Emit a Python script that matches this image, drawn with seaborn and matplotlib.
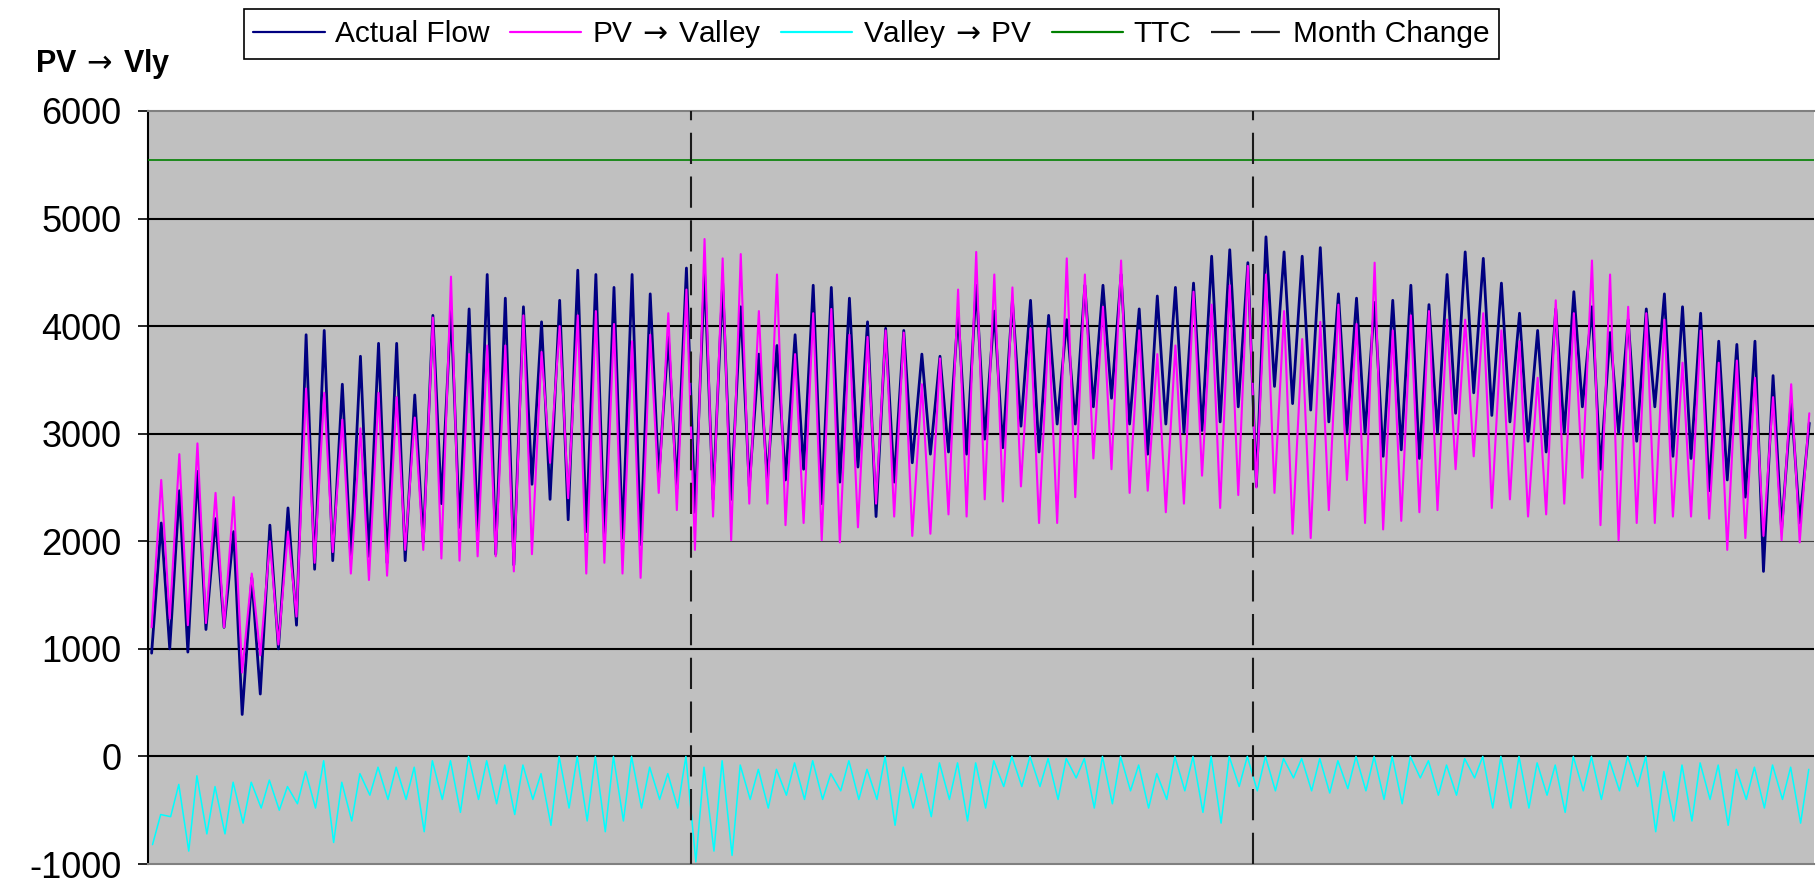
import numpy as np
import pandas as pd
import matplotlib
matplotlib.use("Agg")
import matplotlib.pyplot as plt
from matplotlib.lines import Line2D
import seaborn as sns

# ---------------- data (one value pair per day) ----------------
days = np.arange(92)

actual_trough = [960, 1000, 970, 1180, 1200, 390, 580, 1000, 1220, 1740,
                 1820, 1840, 1860, 1800, 1820, 1990, 2350, 2130, 2090, 1880,
                 1780, 2530, 2390, 2200, 2090, 2010, 2030, 1970, 2590, 2490,
                 2270, 2390, 2390, 2510, 2570, 2570, 2670, 2350, 2550, 2690,
                 2230, 2550, 2730, 2810, 2830, 2810, 2950, 2870, 3070, 2830,
                 3090, 3090, 3250, 3330, 3090, 2810, 3090, 3010, 3030, 3110,
                 3250, 2510, 3440, 3280, 3220, 3110, 3010, 3010, 2790, 2850,
                 2770, 3010, 3190, 3380, 3170, 3110, 2930, 2830, 3010, 3250,
                 2670, 3010, 2930, 3250, 2790, 2770, 2470, 2570, 2410, 1720,
                 2110, 2170]
actual_peak = [2170, 2470, 2650, 2210, 2090, 1660, 2150, 2310, 3920, 3960,
               3460, 3720, 3840, 3840, 3360, 4100, 4160, 4160, 4480, 4260,
               4180, 4040, 4240, 4520, 4480, 4360, 4480, 4300, 3900, 4540,
               4500, 4400, 4180, 3740, 3820, 3920, 4380, 4360, 4260, 4040,
               3980, 3960, 3740, 3720, 4120, 4380, 4140, 4240, 4240, 4100,
               4060, 4380, 4380, 4480, 4160, 4280, 4360, 4400, 4650, 4710,
               4590, 4830, 4690, 4650, 4730, 4300, 4260, 4220, 4240, 4380,
               4200, 4480, 4690, 4630, 4400, 4120, 3960, 4160, 4320, 4180,
               3940, 4060, 4160, 4300, 4180, 4120, 3860, 3830, 3860, 3540,
               3300, 3100]
pv_valley_trough = [1200, 1280, 1220, 1240, 1200, 780, 940, 1040, 1300, 1800,
                    1900, 1700, 1640, 1680, 1920, 1920, 1840, 1820, 1860, 1860,
                    1720, 1880, 2730, 2400, 1700, 1800, 1700, 1660, 2450, 2290,
                    1920, 2230, 2010, 2350, 2350, 2150, 2170, 2010, 1990, 2130,
                    2350, 2230, 2050, 2070, 2250, 2230, 2390, 2370, 2510, 2170,
                    2170, 2410, 2770, 2670, 2450, 2470, 2270, 2350, 2610, 2310,
                    2430, 2500, 2450, 2070, 2030, 2290, 2570, 2170, 2110, 2190,
                    2270, 2290, 2670, 2790, 2310, 2390, 2230, 2250, 2350, 2590,
                    2150, 2010, 2170, 2170, 2230, 2230, 2210, 1920, 2030, 2050,
                    2010, 1990]
pv_valley_peak = [2570, 2810, 2910, 2450, 2410, 1700, 2000, 2090, 3420, 3380,
                  3130, 3050, 3380, 3340, 3150, 4080, 4460, 3740, 3820, 3820,
                  4100, 3760, 4000, 4100, 4140, 4020, 3860, 3920, 4120, 4340,
                  4810, 4630, 4670, 4140, 4480, 3740, 4120, 4160, 3920, 3900,
                  3960, 3940, 3460, 3700, 4340, 4690, 4480, 4360, 3980, 3980,
                  4630, 4480, 4180, 4610, 3960, 3740, 3820, 4320, 4200, 4380,
                  4560, 4480, 4140, 3880, 4040, 4200, 4020, 4590, 3960, 4100,
                  4140, 4060, 4060, 4120, 3960, 3860, 3520, 4240, 4120, 4610,
                  4480, 4180, 4120, 4060, 3660, 3960, 3660, 3680, 3520, 3340,
                  3460, 3190]
valley_pv_low = [-820, -560, -880, -720, -720, -620, -480, -500, -440, -480,
                 -800, -600, -360, -400, -400, -700, -400, -520, -400, -440,
                 -540, -400, -640, -480, -600, -700, -600, -480, -400, -480,
                 -980, -880, -920, -400, -480, -360, -400, -400, -320, -400,
                 -400, -640, -480, -560, -400, -600, -480, -280, -280, -280,
                 -400, -200, -480, -440, -320, -480, -400, -320, -520, -620,
                 -280, -320, -320, -200, -320, -340, -300, -320, -400, -440,
                 -200, -360, -360, -200, -480, -480, -480, -360, -520, -320,
                 -400, -320, -280, -700, -600, -600, -400, -640, -400, -480,
                 -400, -620]
valley_pv_high = [-540, -260, -180, -280, -240, -240, -220, -280, -140, -40,
                  -240, -160, -100, -100, -100, -40, -40, 0, -40, -80,
                  -80, -160, 0, 0, 0, 0, 0, -100, -160, 0,
                  -100, -40, -80, -120, -120, -60, -40, -160, -40, -120,
                  0, -100, -160, -60, -60, -60, -40, 0, 0, -20,
                  -20, -20, 0, 0, -80, -160, 0, 0, 0, 0,
                  0, 0, -20, -20, -20, -40, 0, 0, 0, 0,
                  -40, -80, -20, 0, 0, 0, -60, -80, 0, 0,
                  -40, 0, 0, -140, -80, -60, -80, -120, -100, -80,
                  -100, -120]
ttc_value = 5540
month_change_days = [30, 61]
y_ticks = [-1000, 0, 1000, 2000, 3000, 4000, 5000, 6000]
ARROW = r"$\,\rightarrow\,$"
labels = ["Actual Flow", f"PV{ARROW}Valley", f"Valley{ARROW}PV", "TTC", "Month Change"]
y_title = f"PV{ARROW}Vly"

# ---------------- build long tables ----------------
def interleave(a_pos, a_vals, b_pos, b_vals):
    x = np.column_stack([days + a_pos, days + b_pos]).ravel()
    y = np.column_stack([a_vals, b_vals]).ravel()
    return pd.DataFrame({"day": x, "value": y})

df_actual = interleave(0.20, actual_trough, 0.73, actual_peak)
df_pv = interleave(0.20, pv_valley_trough, 0.73, pv_valley_peak)
df_vly = interleave(0.25, valley_pv_low, 0.70, valley_pv_high)

# ---------------- styling ----------------
sns.set_theme(style="white")
plt.rcParams["font.family"] = ["Liberation Sans", "DejaVu Sans"]
plt.rcParams["axes.unicode_minus"] = False
plt.rcParams["text.color"] = "black"
plt.rcParams["ytick.color"] = "black"
plt.rcParams["ytick.labelcolor"] = "black"
plt.rcParams["mathtext.fontset"] = "dejavusans"

fig = plt.figure(figsize=(18.16, 8.85), dpi=100)
fig.patch.set_facecolor("white")
ax = fig.add_axes([148 / 1816, 1 - 864 / 885, 1 - 148 / 1816 - 0.001, (864 - 111) / 885])
ax.set_facecolor("#C0C0C0")

# grid lines
for yv in y_ticks[1:-1]:
    if yv == 2000:
        ax.axhline(yv, color="#404040", lw=0.8, zorder=1)
    else:
        ax.axhline(yv, color="black", lw=1.5, zorder=1)

navy, pink, cyan, green = "#000080", "#FF00FF", "#00FFFF", "#008000"

sns.lineplot(data=df_actual, x="day", y="value", ax=ax, color=navy, lw=2.0,
             sort=False, estimator=None, zorder=3, legend=False)
sns.lineplot(data=df_pv, x="day", y="value", ax=ax, color=pink, lw=1.5,
             sort=False, estimator=None, zorder=4, legend=False)
sns.lineplot(data=df_vly, x="day", y="value", ax=ax, color=cyan, lw=1.1,
             sort=False, estimator=None, zorder=4, legend=False)
ax.axhline(ttc_value, color=green, lw=1.2, zorder=3)
for d in month_change_days:
    ax.axvline(d, color="#1a1a1a", lw=1.5, linestyle=(0, (15, 6)), zorder=5)

ax.set_xlim(0, 92)
ax.set_ylim(-1000, 6000)
ax.set_yticks(y_ticks)
ax.set_yticklabels([str(v) for v in y_ticks], fontsize=26, color="black")
ax.set_xticks([])
ax.set_xlabel("")
ax.set_ylabel("")
ax.tick_params(axis="y", direction="out", length=7, width=1.2, color="black",
               pad=12, left=True)

for side in ["top", "bottom"]:
    ax.spines[side].set_color("#808080")
    ax.spines[side].set_linewidth(1.5)
ax.spines["left"].set_color("black")
ax.spines["left"].set_linewidth(1.5)
ax.spines["right"].set_visible(False)

fig.text(35 / 1816, 1 - 64 / 885, y_title, fontsize=22, fontweight="bold",
         ha="left", va="center", color="black")

handles = [
    Line2D([], [], color=navy, lw=1.6),
    Line2D([], [], color=pink, lw=1.6),
    Line2D([], [], color=cyan, lw=1.6),
    Line2D([], [], color=green, lw=1.6),
    Line2D([], [], color="#1a1a1a", lw=1.6, linestyle=(0, (13, 5))),
]
leg = fig.legend(handles, labels, loc="center", bbox_to_anchor=(871.5 / 1816, 1 - 34 / 885),
                 ncol=5, fontsize=21.5, frameon=True, fancybox=False, framealpha=1,
                 edgecolor="black", handlelength=2.4, handletextpad=0.35,
                 columnspacing=0.65, borderpad=0.3, borderaxespad=0)
leg.get_frame().set_linewidth(1.2)
for t in leg.get_texts():
    t.set_color("black")

fig.savefig("out.png", dpi=100, facecolor="white")
